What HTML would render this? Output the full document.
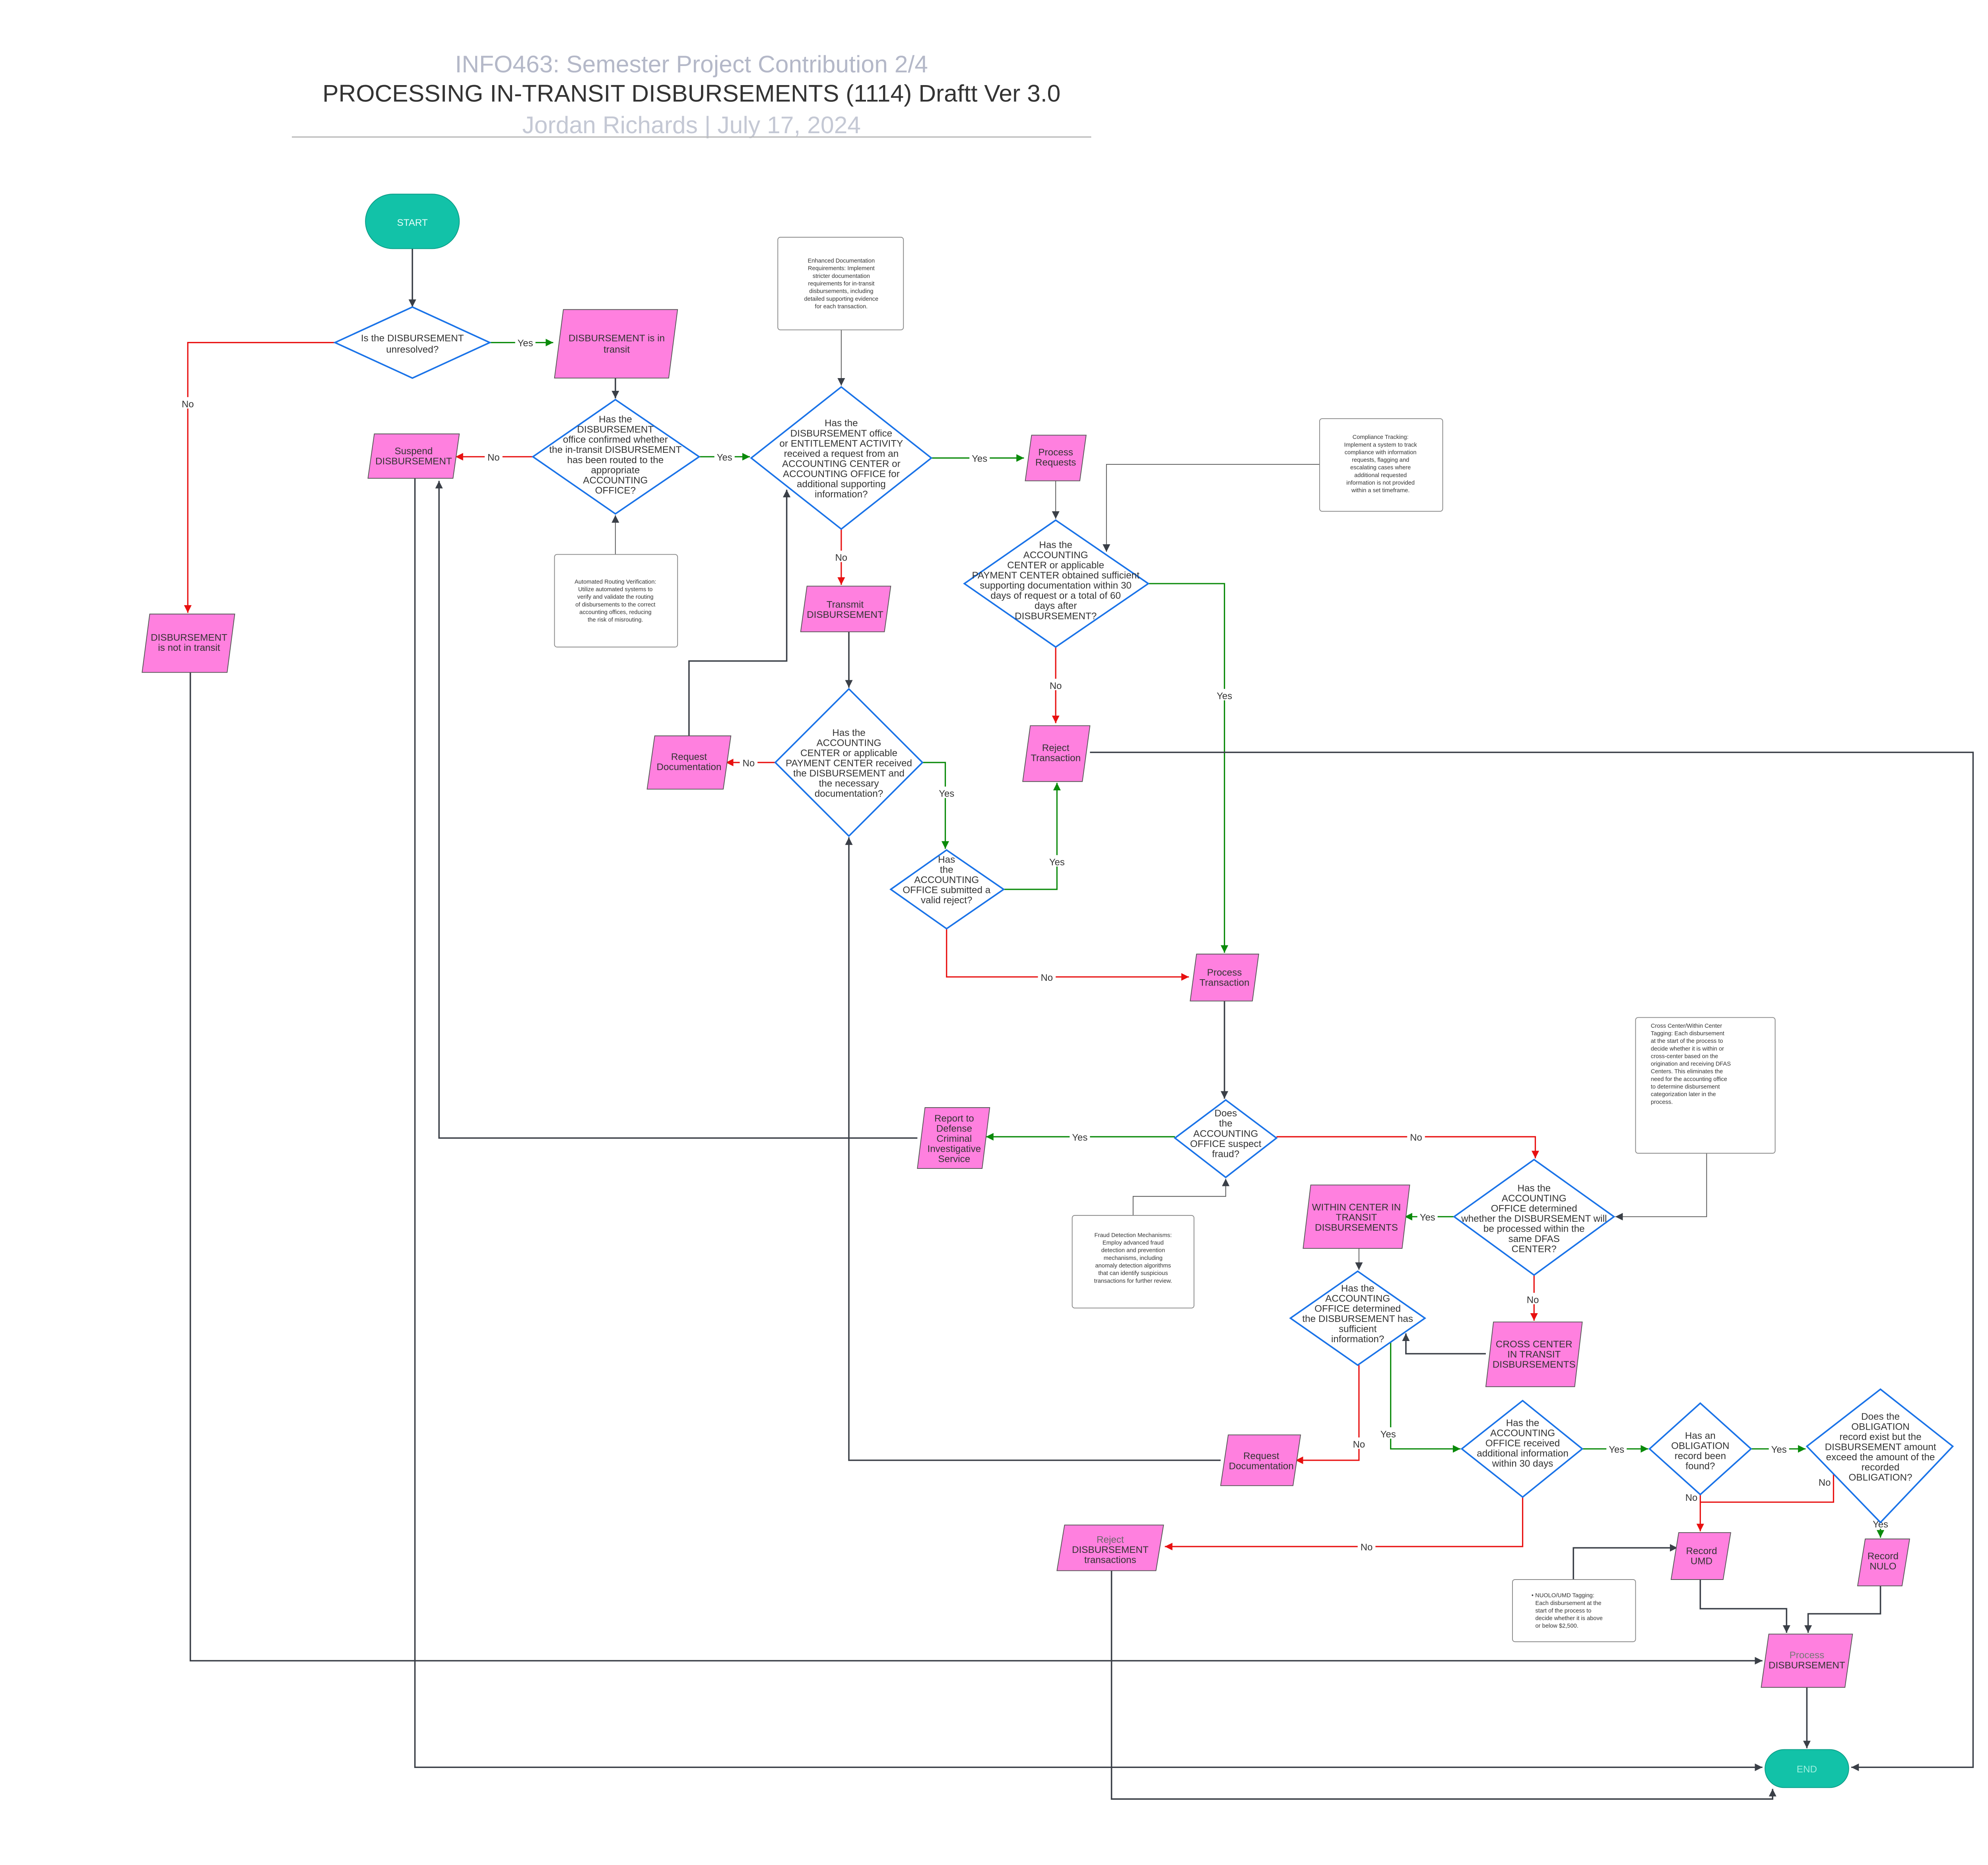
<!DOCTYPE html>
<html><head><meta charset="utf-8"><style>
html,body{margin:0;padding:0;background:#fff}
svg{display:block}
text{font-family:"Liberation Sans",sans-serif;fill:#333;text-anchor:middle}
.d{fill:#fff;stroke:#1a73e8;stroke-width:1.2}
.p{fill:#ff80df;stroke:#555;stroke-width:0.6}
.n{fill:#fff;stroke:#888;stroke-width:0.6}
.k{fill:none;stroke:#3a3f47;stroke-width:1.1}
.kt{fill:none;stroke:#555;stroke-width:0.6}
.g{fill:none;stroke:#0a8a0a;stroke-width:1}
.r{fill:none;stroke:#e81010;stroke-width:1}
.t{font-size:7.6px}
.s{font-size:4.6px}
.l{font-size:7.5px;fill:#777}
</style></head><body>
<svg width="5138" height="4691" viewBox="0 0 1610 1470" preserveAspectRatio="none" xmlns="http://www.w3.org/2000/svg">
<defs>
<marker id="ak" markerWidth="8" markerHeight="8" refX="6" refY="3" orient="auto" markerUnits="userSpaceOnUse"><path d="M0,0 L6,3 L0,6z" fill="#3a3f47"/></marker>
<marker id="ag" markerWidth="8" markerHeight="8" refX="6" refY="3" orient="auto" markerUnits="userSpaceOnUse"><path d="M0,0 L6,3 L0,6z" fill="#0a8a0a"/></marker>
<marker id="ar" markerWidth="8" markerHeight="8" refX="6" refY="3" orient="auto" markerUnits="userSpaceOnUse"><path d="M0,0 L6,3 L0,6z" fill="#e81010"/></marker>
</defs>
<rect width="1610" height="1470" fill="#fff"/>
<!-- title -->
<text x="545" y="57" style="font-size:19px;fill:#b4b8c8">INFO463: Semester Project Contribution 2/4</text>
<text x="545" y="80" style="font-size:19px;fill:#333">PROCESSING IN-TRANSIT DISBURSEMENTS (1114) Draftt Ver 3.0</text>
<text x="545" y="105" style="font-size:19px;fill:#c4c8d4">Jordan Richards  |  July 17, 2024</text>
<line x1="230" y1="108" x2="860" y2="108" stroke="#bbb" stroke-width="1"/>

<!-- connectors -->
<path class="k" d="M325,196 V242" marker-end="url(#ak)"/>
<path class="g" d="M386,270 H436" marker-end="url(#ag)"/>
<path class="r" d="M264,270 H148 V483" marker-end="url(#ar)"/>
<path class="k" d="M485,298 V314" marker-end="url(#ak)"/>
<path class="r" d="M420,360 H359" marker-end="url(#ar)"/>
<path class="g" d="M551,360 H591" marker-end="url(#ag)"/>
<path class="kt" d="M663,260 V304" marker-end="url(#ak)"/>
<path class="g" d="M734,361 H807" marker-end="url(#ag)"/>
<path class="kt" d="M832,379 V409" marker-end="url(#ak)"/>
<path class="kt" d="M1040,366 H872 V435" marker-end="url(#ak)"/>
<path class="r" d="M832,510 V570" marker-end="url(#ar)"/>
<path class="g" d="M905,460 H965 V751" marker-end="url(#ag)"/>
<path class="k" d="M859,593 H1555 V1393 H1459" marker-end="url(#ak)"/>
<path class="r" d="M663,417 V461" marker-end="url(#ar)"/>
<path class="k" d="M669,498 V542" marker-end="url(#ak)"/>
<path class="r" d="M611,601 H572" marker-end="url(#ar)"/>
<path class="k" d="M543,580 V521 H620 V386" marker-end="url(#ak)"/>
<path class="g" d="M727,601 H745 V669" marker-end="url(#ag)"/>
<path class="g" d="M791,701 H833 V617" marker-end="url(#ag)"/>
<path class="r" d="M746,732 V770 H937" marker-end="url(#ar)"/>
<path class="k" d="M965,789 V866" marker-end="url(#ak)"/>
<path class="kt" d="M485,437 V406" marker-end="url(#ak)"/>
<path class="g" d="M926,896 H777" marker-end="url(#ag)"/>
<path class="k" d="M723,897 H346 V379" marker-end="url(#ak)"/>
<path class="k" d="M327,377 V1393 H1389" marker-end="url(#ak)"/>
<path class="kt" d="M893,958 V943 H966 V929" marker-end="url(#ak)"/>
<path class="r" d="M1006,896 H1210 V913" marker-end="url(#ar)"/>
<path class="kt" d="M1345,909 V959 H1273" marker-end="url(#ak)"/>
<path class="g" d="M1146,959 H1107" marker-end="url(#ag)"/>
<path class="kt" d="M1071,984 V1001" marker-end="url(#ak)"/>
<path class="r" d="M1209,1005 V1041" marker-end="url(#ar)"/>
<path class="k" d="M1171,1067 H1108 V1051" marker-end="url(#ak)"/>
<path class="r" d="M1071,1076 V1151 H1021" marker-end="url(#ar)"/>
<path class="k" d="M962,1151 H669 V660" marker-end="url(#ak)"/>
<path class="g" d="M1096,1050 V1142 H1151" marker-end="url(#ag)"/>
<path class="g" d="M1247,1142 H1299" marker-end="url(#ag)"/>
<path class="g" d="M1380,1142 H1423" marker-end="url(#ag)"/>
<path class="r" d="M1340,1178 V1207" marker-end="url(#ar)"/>
<path class="r" d="M1445,1160 V1184 H1340"/>
<path class="g" d="M1482,1200 V1212" marker-end="url(#ag)"/>
<path class="r" d="M1200,1180 V1219 H918" marker-end="url(#ar)"/>
<path class="k" d="M876,1238 V1418 H1397 V1410" marker-end="url(#ak)"/>
<path class="k" d="M1240,1245 V1220 H1322" marker-end="url(#ak)"/>
<path class="k" d="M1340,1245 V1268 H1408 V1287" marker-end="url(#ak)"/>
<path class="k" d="M1482,1250 V1272 H1425 V1287" marker-end="url(#ak)"/>
<path class="k" d="M1424,1330 V1378" marker-end="url(#ak)"/>
<path class="k" d="M150,530 V1309 H1389" marker-end="url(#ak)"/>

<!-- connector labels -->
<g class="l">
<rect x="406" y="265" width="16" height="9" fill="#fff"/><text x="414" y="273">Yes</text>
<rect x="141" y="313" width="14" height="9" fill="#fff"/><text x="148" y="321">No</text>
<rect x="382" y="355" width="14" height="9" fill="#fff"/><text x="389" y="363">No</text>
<rect x="563" y="355" width="16" height="9" fill="#fff"/><text x="571" y="363">Yes</text>
<rect x="764" y="356" width="16" height="9" fill="#fff"/><text x="772" y="364">Yes</text>
<rect x="656" y="434" width="14" height="9" fill="#fff"/><text x="663" y="442">No</text>
<rect x="825" y="535" width="14" height="9" fill="#fff"/><text x="832" y="543">No</text>
<rect x="957" y="543" width="16" height="9" fill="#fff"/><text x="965" y="551">Yes</text>
<rect x="583" y="596" width="14" height="9" fill="#fff"/><text x="590" y="604">No</text>
<rect x="738" y="620" width="16" height="9" fill="#fff"/><text x="746" y="628">Yes</text>
<rect x="825" y="674" width="16" height="9" fill="#fff"/><text x="833" y="682">Yes</text>
<rect x="818" y="765" width="14" height="9" fill="#fff"/><text x="825" y="773">No</text>
<rect x="843" y="891" width="16" height="9" fill="#fff"/><text x="851" y="899">Yes</text>
<rect x="1109" y="891" width="14" height="9" fill="#fff"/><text x="1116" y="899">No</text>
<rect x="1117" y="954" width="16" height="9" fill="#fff"/><text x="1125" y="962">Yes</text>
<rect x="1201" y="1019" width="14" height="9" fill="#fff"/><text x="1208" y="1027">No</text>
<rect x="1064" y="1133" width="14" height="9" fill="#fff"/><text x="1071" y="1141">No</text>
<rect x="1086" y="1125" width="16" height="9" fill="#fff"/><text x="1094" y="1133">Yes</text>
<rect x="1266" y="1137" width="16" height="9" fill="#fff"/><text x="1274" y="1145">Yes</text>
<rect x="1394" y="1137" width="16" height="9" fill="#fff"/><text x="1402" y="1145">Yes</text>
<text x="1333" y="1183">No</text>
<text x="1438" y="1171">No</text>
<rect x="1474" y="1196" width="16" height="9" fill="#fff"/><text x="1482" y="1204">Yes</text>
<rect x="1070" y="1214" width="14" height="9" fill="#fff"/><text x="1077" y="1222">No</text>
</g>

<!-- terminals -->
<rect x="288" y="153" width="74" height="43" rx="21.5" fill="#12c2a8" stroke="#0a9c86" stroke-width="0.6"/>
<text x="325" y="178" class="t" style="fill:#e8fffa">START</text>
<rect x="1391" y="1379" width="66" height="30" rx="15" fill="#12c2a8" stroke="#0a9c86" stroke-width="0.6"/>
<text x="1424" y="1397" class="t" style="fill:#9ff0e0">END</text>

<!-- notes -->
<rect class="n" x="613" y="187" width="99" height="73" rx="2"/>
<text class="s"><tspan x="663" y="207">Enhanced Documentation</tspan><tspan x="663" y="213">Requirements: Implement</tspan><tspan x="663" y="219">stricter documentation</tspan><tspan x="663" y="225">requirements for in-transit</tspan><tspan x="663" y="231">disbursements, including</tspan><tspan x="663" y="237">detailed supporting evidence</tspan><tspan x="663" y="243">for each transaction.</tspan></text>
<rect class="n" x="1040" y="330" width="97" height="73" rx="2"/>
<text class="s"><tspan x="1088" y="346">Compliance Tracking:</tspan><tspan x="1088" y="352">Implement a system to track</tspan><tspan x="1088" y="358">compliance with information</tspan><tspan x="1088" y="364">requests, flagging and</tspan><tspan x="1088" y="370">escalating cases where</tspan><tspan x="1088" y="376">additional requested</tspan><tspan x="1088" y="382">information is not provided</tspan><tspan x="1088" y="388">within a set timeframe.</tspan></text>
<rect class="n" x="437" y="437" width="97" height="73" rx="2"/>
<text class="s"><tspan x="485" y="460">Automated Routing Verification:</tspan><tspan x="485" y="466">Utilize automated systems to</tspan><tspan x="485" y="472">verify and validate the routing</tspan><tspan x="485" y="478">of disbursements to the correct</tspan><tspan x="485" y="484">accounting offices, reducing</tspan><tspan x="485" y="490">the risk of misrouting.</tspan></text>
<rect class="n" x="845" y="958" width="96" height="73" rx="2"/>
<text class="s"><tspan x="893" y="975">Fraud Detection Mechanisms:</tspan><tspan x="893" y="981">Employ advanced fraud</tspan><tspan x="893" y="987">detection and prevention</tspan><tspan x="893" y="993">mechanisms, including</tspan><tspan x="893" y="999">anomaly detection algorithms</tspan><tspan x="893" y="1005">that can identify suspicious</tspan><tspan x="893" y="1011">transactions for further review.</tspan></text>
<rect class="n" x="1289" y="802" width="110" height="107" rx="2"/>
<text class="s" style="text-anchor:start"><tspan x="1301" y="810">Cross Center/Within Center</tspan><tspan x="1301" y="816">Tagging: Each disbursement</tspan><tspan x="1301" y="822">at the start of the process to</tspan><tspan x="1301" y="828">decide whether it is within or</tspan><tspan x="1301" y="834">cross-center based on the</tspan><tspan x="1301" y="840">origination and receiving DFAS</tspan><tspan x="1301" y="846">Centers. This eliminates the</tspan><tspan x="1301" y="852">need for the accounting office</tspan><tspan x="1301" y="858">to determine disbursement</tspan><tspan x="1301" y="864">categorization later in the</tspan><tspan x="1301" y="870">process.</tspan></text>
<rect class="n" x="1192" y="1245" width="97" height="49" rx="2"/>
<text class="s" style="text-anchor:start"><tspan x="1207" y="1259">• NUOLO/UMD Tagging:</tspan><tspan x="1210" y="1265">Each disbursement at the</tspan><tspan x="1210" y="1271">start of the process to</tspan><tspan x="1210" y="1277">decide whether it is above</tspan><tspan x="1210" y="1283">or below $2,500.</tspan></text>

<!-- diamonds -->
<polygon class="d" points="264,270 325,242 386,270 325,298"/>
<text class="t"><tspan x="325" y="269">Is the DISBURSEMENT</tspan><tspan x="325" y="278">unresolved?</tspan></text>
<polygon class="d" points="420,360 485,315 551,360 485,405"/>
<text class="t"><tspan x="485" y="333">Has the</tspan><tspan x="485" y="341">DISBURSEMENT</tspan><tspan x="485" y="349">office confirmed whether</tspan><tspan x="485" y="357">the  in-transit DISBURSEMENT</tspan><tspan x="485" y="365">has been routed to the</tspan><tspan x="485" y="373">appropriate</tspan><tspan x="485" y="381">ACCOUNTING</tspan><tspan x="485" y="389">OFFICE?</tspan></text>
<polygon class="d" points="592,361 663,305 734,361 663,417"/>
<text class="t"><tspan x="663" y="336">Has the</tspan><tspan x="663" y="344">DISBURSEMENT office</tspan><tspan x="663" y="352">or ENTITLEMENT ACTIVITY</tspan><tspan x="663" y="360">received a request from an</tspan><tspan x="663" y="368">ACCOUNTING CENTER or</tspan><tspan x="663" y="376">ACCOUNTING OFFICE for</tspan><tspan x="663" y="384">additional supporting</tspan><tspan x="663" y="392">information?</tspan></text>
<polygon class="d" points="760,460 832,410 905,460 832,510"/>
<text class="t"><tspan x="832" y="432">Has the</tspan><tspan x="832" y="440">ACCOUNTING</tspan><tspan x="832" y="448">CENTER or applicable</tspan><tspan x="832" y="456">PAYMENT CENTER obtained sufficient</tspan><tspan x="832" y="464">supporting documentation within 30</tspan><tspan x="832" y="472">days of request or a total of 60</tspan><tspan x="832" y="480">days after</tspan><tspan x="832" y="488">DISBURSEMENT?</tspan></text>
<polygon class="d" points="611,601 669,543 727,601 669,659"/>
<text class="t"><tspan x="669" y="580">Has the</tspan><tspan x="669" y="588">ACCOUNTING</tspan><tspan x="669" y="596">CENTER or applicable</tspan><tspan x="669" y="604">PAYMENT CENTER received</tspan><tspan x="669" y="612">the DISBURSEMENT and</tspan><tspan x="669" y="620">the necessary</tspan><tspan x="669" y="628">documentation?</tspan></text>
<polygon class="d" points="702,701 746,670 791,701 746,732"/>
<text class="t"><tspan x="746" y="680">Has</tspan><tspan x="746" y="688">the</tspan><tspan x="746" y="696">ACCOUNTING</tspan><tspan x="746" y="704">OFFICE submitted a</tspan><tspan x="746" y="712">valid reject?</tspan></text>
<polygon class="d" points="926,897 966,867 1006,897 966,928"/>
<text class="t"><tspan x="966" y="880">Does</tspan><tspan x="966" y="888">the</tspan><tspan x="966" y="896">ACCOUNTING</tspan><tspan x="966" y="904">OFFICE suspect</tspan><tspan x="966" y="912">fraud?</tspan></text>
<polygon class="d" points="1146,959 1209,914 1272,959 1209,1005"/>
<text class="t"><tspan x="1209" y="939">Has the</tspan><tspan x="1209" y="947">ACCOUNTING</tspan><tspan x="1209" y="955">OFFICE determined</tspan><tspan x="1209" y="963">whether the DISBURSEMENT will</tspan><tspan x="1209" y="971">be processed within the</tspan><tspan x="1209" y="979">same DFAS</tspan><tspan x="1209" y="987">CENTER?</tspan></text>
<polygon class="d" points="1017,1039 1070,1002 1123,1039 1070,1076"/>
<text class="t"><tspan x="1070" y="1018">Has the</tspan><tspan x="1070" y="1026">ACCOUNTING</tspan><tspan x="1070" y="1034">OFFICE determined</tspan><tspan x="1070" y="1042">the DISBURSEMENT has</tspan><tspan x="1070" y="1050">sufficient</tspan><tspan x="1070" y="1058">information?</tspan></text>
<polygon class="d" points="1152,1142 1200,1104 1247,1142 1200,1180"/>
<text class="t"><tspan x="1200" y="1124">Has the</tspan><tspan x="1200" y="1132">ACCOUNTING</tspan><tspan x="1200" y="1140">OFFICE received</tspan><tspan x="1200" y="1148">additional information</tspan><tspan x="1200" y="1156">within 30 days</tspan></text>
<polygon class="d" points="1300,1142 1340,1106 1380,1142 1340,1178"/>
<text class="t"><tspan x="1340" y="1134">Has an</tspan><tspan x="1340" y="1142">OBLIGATION</tspan><tspan x="1340" y="1150">record been</tspan><tspan x="1340" y="1158">found?</tspan></text>
<polygon class="d" points="1424,1140 1482,1095 1539,1140 1482,1200"/>
<text class="t"><tspan x="1482" y="1119">Does the</tspan><tspan x="1482" y="1127">OBLIGATION</tspan><tspan x="1482" y="1135">record exist but the</tspan><tspan x="1482" y="1143">DISBURSEMENT amount</tspan><tspan x="1482" y="1151">exceed the amount of the</tspan><tspan x="1482" y="1159">recorded</tspan><tspan x="1482" y="1167">OBLIGATION?</tspan></text>

<!-- parallelograms -->
<polygon class="p" points="444,244 534,244 527,298 437,298"/>
<text class="t"><tspan x="486" y="269">DISBURSEMENT is in</tspan><tspan x="486" y="278">transit</tspan></text>
<polygon class="p" points="295,342 362,342 357,377 290,377"/>
<text class="t"><tspan x="326" y="358">Suspend</tspan><tspan x="326" y="366">DISBURSEMENT</tspan></text>
<polygon class="p" points="813,343 856,343 851,379 808,379"/>
<text class="t"><tspan x="832" y="359">Process</tspan><tspan x="832" y="367">Requests</tspan></text>
<polygon class="p" points="812,572 859,572 853,616 806,616"/>
<text class="t"><tspan x="832" y="592">Reject</tspan><tspan x="832" y="600">Transaction</tspan></text>
<polygon class="p" points="636,462 702,462 697,498 631,498"/>
<text class="t"><tspan x="666" y="479">Transmit</tspan><tspan x="666" y="487">DISBURSEMENT</tspan></text>
<polygon class="p" points="516,580 576,580 570,622 510,622"/>
<text class="t"><tspan x="543" y="599">Request</tspan><tspan x="543" y="607">Documentation</tspan></text>
<polygon class="p" points="943,752 992,752 987,789 938,789"/>
<text class="t"><tspan x="965" y="769">Process</tspan><tspan x="965" y="777">Transaction</tspan></text>
<polygon class="p" points="729,873 780,873 774,921 723,921"/>
<text class="t"><tspan x="752" y="884">Report to</tspan><tspan x="752" y="892">Defense</tspan><tspan x="752" y="900">Criminal</tspan><tspan x="752" y="908">Investigative</tspan><tspan x="752" y="916">Service</tspan></text>
<polygon class="p" points="1033,934 1111,934 1105,984 1027,984"/>
<text class="t"><tspan x="1069" y="954">WITHIN CENTER IN</tspan><tspan x="1069" y="962">TRANSIT</tspan><tspan x="1069" y="970">DISBURSEMENTS</tspan></text>
<polygon class="p" points="1177,1042 1247,1042 1241,1093 1171,1093"/>
<text class="t"><tspan x="1209" y="1062">CROSS CENTER</tspan><tspan x="1209" y="1070">IN TRANSIT</tspan><tspan x="1209" y="1078">DISBURSEMENTS</tspan></text>
<polygon class="p" points="968,1131 1025,1131 1019,1171 962,1171"/>
<text class="t"><tspan x="994" y="1150">Request</tspan><tspan x="994" y="1158">Documentation</tspan></text>
<polygon class="p" points="839,1202 917,1202 911,1238 833,1238"/>
<text class="t"><tspan x="875" y="1216" style="fill:#666">Reject</tspan><tspan x="875" y="1224">DISBURSEMENT</tspan><tspan x="875" y="1232">transactions</tspan></text>
<polygon class="p" points="1323,1208 1364,1208 1358,1245 1317,1245"/>
<text class="t"><tspan x="1341" y="1225">Record</tspan><tspan x="1341" y="1233">UMD</tspan></text>
<polygon class="p" points="1470,1213 1505,1213 1499,1250 1464,1250"/>
<text class="t"><tspan x="1484" y="1229">Record</tspan><tspan x="1484" y="1237">NULO</tspan></text>
<polygon class="p" points="1394,1288 1460,1288 1454,1330 1388,1330"/>
<text class="t"><tspan x="1424" y="1307" style="fill:#777">Process</tspan><tspan x="1424" y="1315">DISBURSEMENT</tspan></text>
<polygon class="p" points="118,484 185,484 179,530 112,530"/>
<text class="t"><tspan x="149" y="505">DISBURSEMENT</tspan><tspan x="149" y="513">is not in transit</tspan></text>
</svg>
</body></html>
